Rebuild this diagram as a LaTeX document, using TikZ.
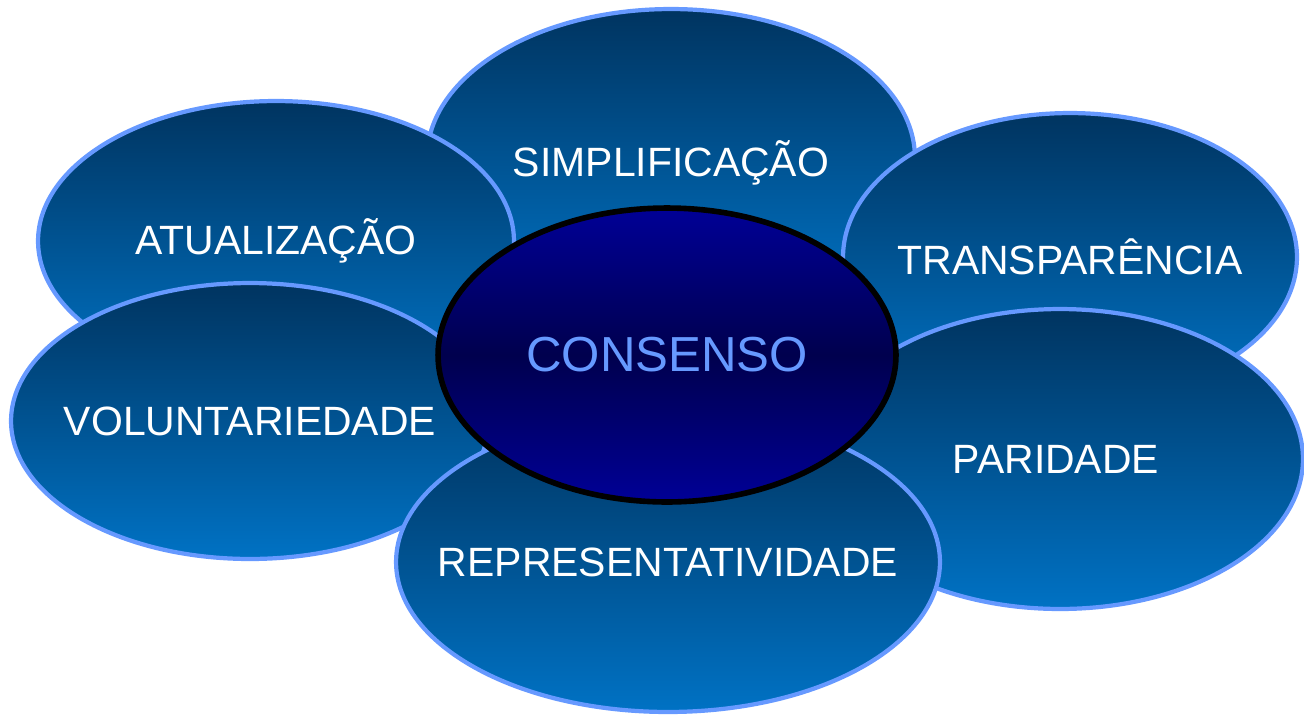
\documentclass[tikz,border=0pt]{standalone}
\usepackage{fontspec}
\setmainfont{Liberation Sans}
\usetikzlibrary{shapes.geometric, positioning}
\definecolor{petaltop}{RGB}{0,52,96}
\definecolor{petalbot}{RGB}{0,114,196}
\definecolor{petaledge}{RGB}{102,153,255}
\definecolor{coredark}{RGB}{0,0,78}
\definecolor{corelight}{RGB}{0,0,150}

\begin{document}
\begin{tikzpicture}[x=0.02cm, y=-0.02cm,
                petal/.style={ellipse, draw=petaledge, line width=2.4pt, top color=petaltop, bottom color=petalbot, inner sep=0pt},
                petal text/.style={text=white, font=\fontsize{23.3}{27}\selectfont},
                core/.style={ellipse, draw=black, line width=3.2pt, top color=corelight, bottom color=corelight,
                             middle color=coredark, inner sep=0pt}]

                \useasboundingbox (0,0) rectangle (1304,714);

                % Petals, back to front
                \node[petal, minimum width=9.76cm, minimum height=5.96cm] (simp) at (671,158) {};
                \node[petal text] at ([yshift=-0.1cm]simp.center) {SIMPLIFICAÇÃO};
                \node[petal, minimum width=9.52cm, minimum height=5.6cm] (atual) at (276,241) {};
                \node[petal text] at (atual.center) {ATUALIZAÇÃO};
                \node[petal, minimum width=9.08cm, minimum height=5.76cm] (transp) at (1070,257) {};
                \node[petal text] at (transp.center) {TRANSPARÊNCIA};
                \node[petal, minimum width=9.56cm, minimum height=5.52cm] (volunt) at (250,421) {};
                \node[petal text] at (volunt.center) {VOLUNTARIEDADE};
                \node[petal, minimum width=9.72cm, minimum height=6cm] (parid) at (1060,459) {};
                \node[petal text] at ([xshift=-0.08cm]parid.center) {PARIDADE};
                \node[petal, minimum width=10.88cm, minimum height=6cm] (repres) at (668,562) {};
                \node[petal text] at (repres.center) {REPRESENTATIVIDADE};

                % Centre
                \node[core, minimum width=9.16cm, minimum height=5.88cm] (consenso) at (667,355) {};
                \node[text=petaledge, font=\fontsize{28}{32}\selectfont] at (consenso.center) {CONSENSO};
            \end{tikzpicture}
\end{document}
